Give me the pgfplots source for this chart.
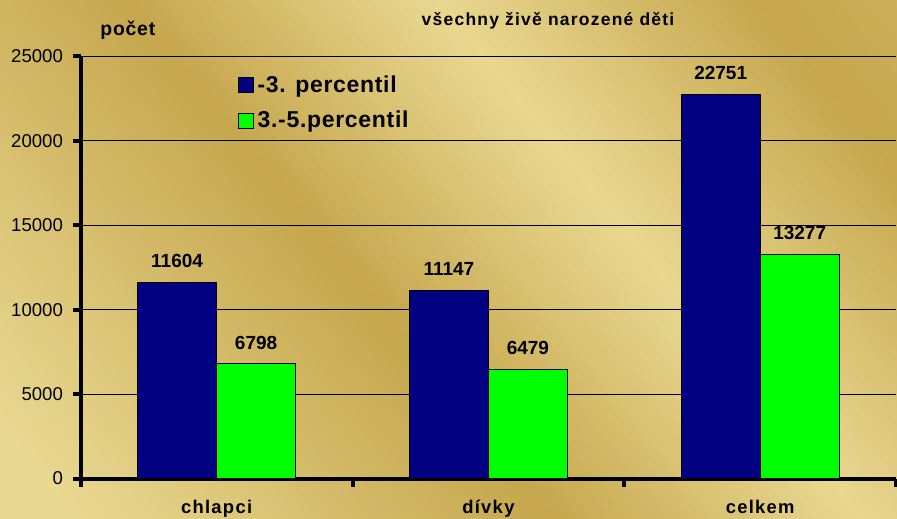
\documentclass[border=0pt]{standalone}
\usepackage{pgfplots}
\pgfplotsset{compat=1.18}
\usepackage{fontspec}
\setmainfont{Liberation Sans}
\newfontfamily\spacedfont[LetterSpace=7]{Liberation Sans}
\newfontfamily\spacedb[LetterSpace=4]{Liberation Sans}
\newfontfamily\spacedl[LetterSpace=3]{Liberation Sans}
\definecolor{barblue}{RGB}{0,0,128}
\definecolor{bargreen}{RGB}{0,255,0}
\definecolor{goldL}{RGB}{233,216,145}
\definecolor{goldD}{RGB}{198,167,78}
\pgfplotsset{/pgf/number format/.cd, 1000 sep={}, assume math mode=true}
\pgfplotsset{sqlegend/.style={legend image code/.code={\draw[##1, line width=0.5pt] (0pt,-3.75pt) rectangle (7.5pt,3.75pt);}}}
\begin{document}
\begin{tikzpicture}
\useasboundingbox (0,0) rectangle (448.5pt,259pt);
\begin{scope}
\clip (0,0) rectangle (448.5pt,259pt);
\begin{scope}[shift={(224.25pt,129.5pt)}, rotate=39.3]
\foreach \p in {-268,-264,...,268} {
  \pgfmathtruncatemacro\s{100*(\p<=-225 ? 1 : (\p<=-45 ? 1-(\p+225)/180 : (\p<=75 ? (\p+45)/120 : (\p<=200 ? 1-(\p-75)/125 : (\p-200)/310))))}
  \fill[goldL!\s!goldD] (\p pt,-330pt) rectangle ({\p pt+4.6pt},330pt);
}
\end{scope}
\end{scope}
\begin{axis}[
  at={(40.35pt,19.75pt)}, anchor=south west,
  scale only axis, width=407.7pt, height=211.1pt,
  xmin=-0.5, xmax=2.5, ymin=0, ymax=25000,
  scaled y ticks=false,
  axis lines*=left,
  axis line style={line width=2pt, black},
  tick align=outside,
  tick style={line width=2pt, black},
  major tick length=3.7pt,
  minor tick length=4.2pt,
  ytick={0,5000,...,25000},
  ymajorgrids,
  major grid style={black, line width=0.5pt},
  yticklabel style={font=\fontsize{9.3}{11}\selectfont, anchor=east, inner sep=0pt, xshift=-5pt},
  xtick={0,1,2},
  xticklabels={chlapci,dívky,celkem},
  every major x tick/.append style={draw=none},
  minor xtick={-0.5,0.5,1.5,2.5},
  xticklabel style={font=\spacedfont\bfseries\fontsize{9.2}{11}\selectfont, anchor=base, inner sep=0pt, yshift=-13.7pt},
  legend style={at={(0.192,0.965)}, anchor=north west, draw=none, fill=none, inner sep=0pt,
    font=\spacedl\bfseries\fontsize{11.5}{13}\selectfont, row sep=4pt,
    /tikz/every even column/.append style={column sep=1.5pt}},
  legend cell align=left,
  clip=false,
]
\addplot[ybar, bar width=39.5pt, bar shift=-19.75pt, fill=barblue, draw=black, line width=0.5pt,
  nodes near coords, nodes near coords style={font=\bfseries\fontsize{9.5}{11}\selectfont, inner sep=0pt, yshift=7pt, xshift=-19.75pt, black},
  sqlegend] coordinates {(0,11604) (1,11147) (2,22751)};
\addplot[ybar, bar width=39.5pt, bar shift=19.75pt, fill=bargreen, draw=black, line width=0.5pt,
  nodes near coords, nodes near coords style={font=\bfseries\fontsize{9.5}{11}\selectfont, inner sep=0pt, yshift=7pt, xshift=19.75pt, black},
  sqlegend] coordinates {(0,6798) (1,6479) (2,13277)};
\legend{-3. percentil, 3.-5.percentil}
\end{axis}
\node[anchor=base, inner sep=0pt, font=\spacedfont\bfseries\fontsize{8.75}{10}\selectfont] at (274pt,246.15pt) {všechny živě narozené děti};
\node[anchor=base west, inner sep=0pt, font=\spacedb\bfseries\fontsize{9.7}{11}\selectfont] at (50pt,241pt) {počet};
\end{tikzpicture}
\end{document}
